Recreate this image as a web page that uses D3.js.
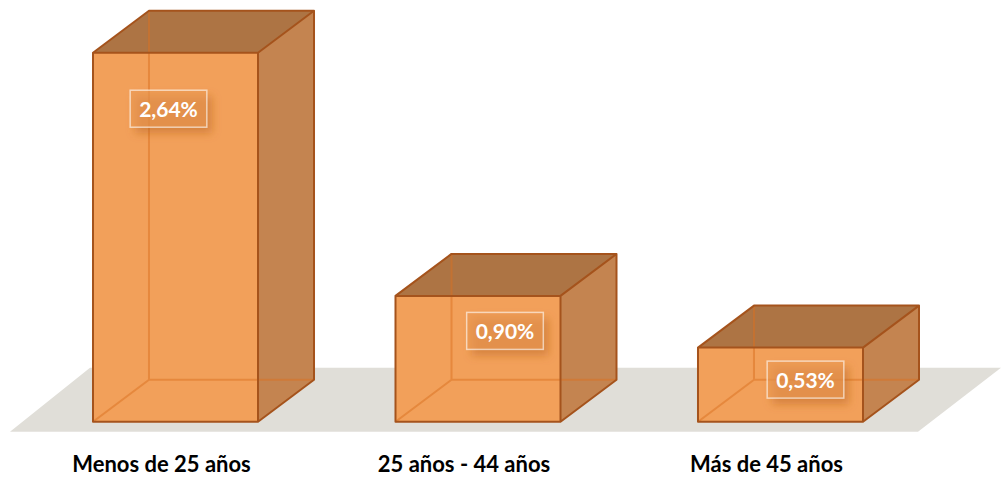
<!DOCTYPE html>
<html>
<head>
<meta charset="utf-8">
<script src="https://cdn.jsdelivr.net/npm/d3@7"></script>
<style>
  html, body { margin: 0; padding: 0; background: #fff; }
  svg { display: block; }
  text { font-family: Lato, "Open Sans", sans-serif; font-weight: bold; }
</style>
</head>
<body>
<svg id="chart" width="1001" height="477"></svg>
<script>
// datos
var categorias = ["Menos de 25 años", "25 años - 44 años", "Más de 45 años"];
var valores = [2.64, 0.90, 0.53];
var etiquetas = ["2,64%", "0,90%", "0,53%"];

// pequeños ajustes de posicion de las etiquetas (layout, no datos)
var ajusteEtiqueta = [[-7, 56], [27, 35], [25, 32]];

var W = 1001, H = 477;
var prof = { dx: 56, dy: -42 };   // profundidad 3D
var colores = {
    frente: "#f2a05a",
    arriba: "#ad7444",
    lado: "#c48450",
    borde: "#a5531c",
    suelo: "#e0ded8"
};

var svg = d3.select("#chart");

var x = d3.scaleBand()
    .domain(categorias)
    .range([22, 934])
    .paddingInner(0.4545)
    .paddingOuter(0.2347);

var y = d3.scaleLinear()
    .domain([0, 3])
    .range([421.7, 2.4]);

// sombra para las etiquetas
var defs = svg.append("defs");
var f = defs.append("filter").attr("id", "sombra")
    .attr("x", "-30%").attr("y", "-30%").attr("width", "160%").attr("height", "180%");
f.append("feGaussianBlur").attr("stdDeviation", 4);

// suelo
var y0 = y(0);
svg.append("path")
    .attr("d", "M10," + (y0 + 10) + "L918," + (y0 + 10) + "L1001," + (y0 - 54) + "L90," + (y0 - 54) + "Z")
    .attr("fill", colores.suelo);

var barras = svg.selectAll("g.barra")
    .data(valores)
    .enter().append("g")
    .attr("class", "barra");

barras.each(function (d, i) {
    var g = d3.select(this);
    var x0 = x(categorias[i]), x1 = x0 + x.bandwidth();
    var yt = y(d), yb = y(0);
    var dx = prof.dx, dy = prof.dy;

    // cara superior
    g.append("path")
        .attr("d", "M" + x0 + "," + yt + "L" + (x0 + dx) + "," + (yt + dy) + "L" + (x1 + dx) + "," + (yt + dy) + "L" + x1 + "," + yt + "Z")
        .attr("fill", colores.arriba);
    // lateral derecho
    g.append("path")
        .attr("d", "M" + x1 + "," + yt + "L" + (x1 + dx) + "," + (yt + dy) + "L" + (x1 + dx) + "," + (yb + dy) + "L" + x1 + "," + yb + "Z")
        .attr("fill", colores.lado);
    // frente
    g.append("rect")
        .attr("x", x0).attr("y", yt)
        .attr("width", x1 - x0).attr("height", yb - yt)
        .attr("fill", colores.frente);

    // aristas ocultas (se ven a traves)
    g.append("path")
        .attr("d", "M" + (x0 + dx) + "," + (yt + dy) + "L" + (x0 + dx) + "," + (yb + dy) +
            "L" + (x1 + dx) + "," + (yb + dy) +
            "M" + x0 + "," + yb + "L" + (x0 + dx) + "," + (yb + dy))
        .attr("fill", "none")
        .attr("stroke", "#d9701f")
        .attr("stroke-opacity", 0.5)
        .attr("stroke-width", 2);

    // aristas visibles
    g.append("path")
        .attr("d", "M" + x0 + "," + yt + "L" + (x0 + dx) + "," + (yt + dy) + "L" + (x1 + dx) + "," + (yt + dy) +
            "L" + (x1 + dx) + "," + (yb + dy) + "L" + x1 + "," + yb + "L" + x0 + "," + yb + "Z" +
            "M" + x0 + "," + yt + "L" + x1 + "," + yt + "L" + (x1 + dx) + "," + (yt + dy) +
            "M" + x1 + "," + yt + "L" + x1 + "," + yb)
        .attr("fill", "none")
        .attr("stroke", colores.borde)
        .attr("stroke-width", 2)
        .attr("stroke-linejoin", "round");

    // etiqueta de valor
    var cx = x0 + x.bandwidth() / 2 + ajusteEtiqueta[i][0];
    var cy = yt + ajusteEtiqueta[i][1];
    var lab = g.append("g");
    var t = lab.append("text")
        .attr("x", cx).attr("y", cy)
        .attr("text-anchor", "middle")
        .attr("dominant-baseline", "central")
        .attr("font-size", 21)
        .attr("fill", "#fff")
        .text(etiquetas[i]);
    var bb = t.node().getBBox();
    var pw = 9, ph = 6;
    lab.insert("rect", "text")
        .attr("x", bb.x - pw + 5).attr("y", bb.y - ph + 6)
        .attr("width", bb.width + 2 * pw).attr("height", bb.height + 2 * ph)
        .attr("fill", "#b35d1c").attr("fill-opacity", 0.45)
        .attr("filter", "url(#sombra)");
    lab.insert("rect", "text")
        .attr("x", bb.x - pw).attr("y", bb.y - ph)
        .attr("width", bb.width + 2 * pw).attr("height", bb.height + 2 * ph)
        .attr("fill", "#eb9a55").attr("fill-opacity", 0.6)
        .attr("stroke", "#fff").attr("stroke-opacity", 0.6).attr("stroke-width", 1.5);
});

// etiquetas de categoria
svg.selectAll("text.cat")
    .data(categorias)
    .enter().append("text")
    .attr("class", "cat")
    .attr("x", function (d) { return x(d) + x.bandwidth() / 2 - 14; })
    .attr("y", 472)
    .attr("text-anchor", "middle")
    .attr("font-size", 22)
    .attr("fill", "#000")
    .text(function (d) { return d; });
</script>
</body>
</html>
